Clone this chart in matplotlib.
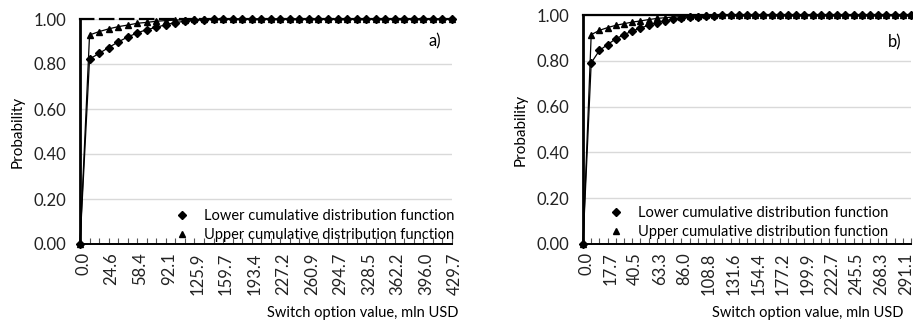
import matplotlib
matplotlib.use("Agg")
import matplotlib.pyplot as plt
import matplotlib.transforms as mtransforms
from matplotlib.lines import Line2D

plt.rcParams['font.family'] = ['Lato', 'DejaVu Sans']

# ---- data ----
cats_a = ["0.0", "2.1", "13.4", "24.6", "35.9", "47.1", "58.4", "69.6", "80.9", "92.1",
          "103.4", "114.6", "125.9", "137.1", "148.4", "159.7", "170.9", "182.2", "193.4", "204.7",
          "215.9", "227.2", "238.4", "249.7", "260.9", "272.2", "283.4", "294.7", "305.9", "317.2",
          "328.5", "339.7", "351.0", "362.2", "373.5", "384.7", "396.0", "407.2", "418.5", "429.7"]
lower_a = [0.0, 0.822, 0.847, 0.873, 0.898, 0.920, 0.938, 0.953, 0.963, 0.975,
           0.984, 0.990, 0.994, 0.996, 0.998, 0.999, 1.0, 1.0, 1.0, 1.0,
           1.0, 1.0, 1.0, 1.0, 1.0, 1.0, 1.0, 1.0, 1.0, 1.0,
           1.0, 1.0, 1.0, 1.0, 1.0, 1.0, 1.0, 1.0, 1.0, 1.0]
upper_a = [0.0, 0.929, 0.944, 0.956, 0.966, 0.973, 0.981, 0.985, 0.990, 0.993,
           0.995, 0.997, 0.998, 0.999, 1.0, 1.0, 1.0, 1.0, 1.0, 1.0,
           1.0, 1.0, 1.0, 1.0, 1.0, 1.0, 1.0, 1.0, 1.0, 1.0,
           1.0, 1.0, 1.0, 1.0, 1.0, 1.0, 1.0, 1.0, 1.0, 1.0]

cats_b = ["0.0", "2.5", "10.1", "17.7", "25.3", "32.9", "40.5", "48.1", "55.7", "63.3",
          "70.8", "78.4", "86.0", "93.6", "101.2", "108.8", "116.4", "124.0", "131.6", "139.2",
          "146.8", "154.4", "162.0", "169.6", "177.2", "184.7", "192.3", "199.9", "207.5", "215.1",
          "222.7", "230.3", "237.9", "245.5", "253.1", "260.7", "268.3", "275.9", "283.5", "291.1",
          "298.7"]
lower_b = [0.0, 0.791, 0.845, 0.871, 0.896, 0.914, 0.930, 0.943, 0.955, 0.967,
           0.974, 0.981, 0.986, 0.990, 0.993, 0.995, 0.997, 0.998, 0.999, 1.0,
           1.0, 1.0, 1.0, 1.0, 1.0, 1.0, 1.0, 1.0, 1.0, 1.0,
           1.0, 1.0, 1.0, 1.0, 1.0, 1.0, 1.0, 1.0, 1.0, 1.0, 1.0]
upper_b = [0.0, 0.914, 0.933, 0.945, 0.955, 0.962, 0.969, 0.974, 0.980, 0.985,
           0.988, 0.991, 0.993, 0.995, 0.997, 0.998, 0.999, 1.0, 1.0, 1.0,
           1.0, 1.0, 1.0, 1.0, 1.0, 1.0, 1.0, 1.0, 1.0, 1.0,
           1.0, 1.0, 1.0, 1.0, 1.0, 1.0, 1.0, 1.0, 1.0, 1.0, 1.0]

yticks = [0.0, 0.2, 0.4, 0.6, 0.8, 1.0]
series_names = ["Lower cumulative distribution function", "Upper cumulative distribution function"]

W, H = 913, 323
fig = plt.figure(figsize=(W / 100, H / 100), dpi=100)


def px_axes(x0, y_top, x1, y_bot):
    return fig.add_axes([x0 / W, (H - y_bot) / H, (x1 - x0) / W, (y_bot - y_top) / H])


def draw(ax, cats, lower, upper, tag, leg_anchor, tag_pos, top_ls):
    x = list(range(len(cats)))
    ax.plot(x, lower, color='black', lw=0.9, marker='D', ms=4.2, mfc='black', mec='black',
            zorder=3, clip_on=False)
    ax.plot(x, upper, color='black', lw=0.9, marker='^', ms=5, mfc='black', mec='black',
            zorder=3, clip_on=False)
    ax.set_xlim(0, len(cats) - 1)
    ax.set_ylim(0, 1.0)
    ax.set_yticks(yticks)
    ax.set_yticklabels([f"{v:.2f}" for v in yticks], fontsize=12, color='#222222')
    ax.yaxis.grid(True, color='#d9d9d9', lw=1)
    ax.set_axisbelow(True)
    ax.tick_params(axis='y', length=0, pad=10)
    ax.set_xticks(x, minor=True)
    ax.set_xticks(x[::3])
    ax.tick_params(axis='x', which='both', direction='in', length=4, width=0.8, color='#555555', pad=6)
    ax.set_xticklabels(cats[::3], rotation=90, fontsize=12, color='#222222')
    shift = mtransforms.ScaledTranslation(3 / 100, 0, fig.dpi_scale_trans)
    for tick in ax.xaxis.get_major_ticks():
        tick.label1.set_transform(tick.label1.get_transform() + shift)
    ax.spines['left'].set_linewidth(2)
    ax.spines['bottom'].set_linewidth(1.4)
    ax.spines['right'].set_visible(False)
    ax.spines['top'].set_linewidth(1.6)
    ax.spines['top'].set_linestyle(top_ls)
    ax.set_ylabel("Probability", fontsize=11, labelpad=6)
    ax.text(tag_pos[0], tag_pos[1], tag, transform=ax.transAxes, fontsize=12, ha='center', va='center')
    handles = [Line2D([], [], ls='none', marker='D', ms=4.2, color='black'),
               Line2D([], [], ls='none', marker='^', ms=5, color='black')]
    ax.legend(handles, series_names, loc='lower left', bbox_to_anchor=leg_anchor, frameon=False,
              fontsize=10.5, handlelength=0.8, handletextpad=1.1, labelspacing=0.35,
              borderaxespad=0, borderpad=0)


ax1 = px_axes(80, 19, 452, 244)
draw(ax1, cats_a, lower_a, upper_a, "a)", (0.258, 0.01), (0.955, 0.9), (0, (6, 3)))

ax2 = px_axes(583, 15, 911, 244)
draw(ax2, cats_b, lower_b, upper_b, "b)", (0.083, 0.02), (0.95, 0.88), '-')

fig.text(363 / W, 1 - 313 / H, "Switch option value, mln USD", ha='center', va='center', fontsize=10.5)
fig.text(808 / W, 1 - 313 / H, "Switch option value, mln USD", ha='center', va='center', fontsize=10.5)

fig.savefig("out.png", dpi=100)
